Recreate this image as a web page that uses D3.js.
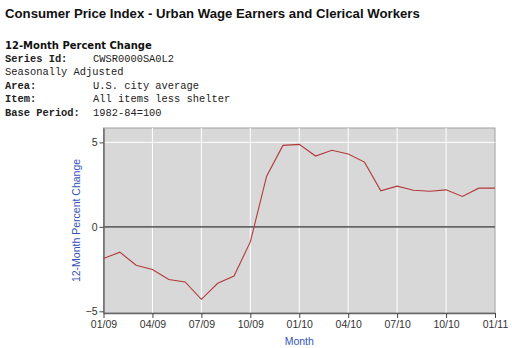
<!DOCTYPE html>
<html>
<head>
<meta charset="utf-8">
<script src="https://cdn.jsdelivr.net/npm/d3@7"></script>
<style>
  body { margin: 0; background: #fff; }
  svg { display: block; }
</style>
</head>
<body>
<svg id="chart"></svg>
<script>
// CPI-W all items less shelter, 12-month percent change

var months = ["01/09","02/09","03/09","04/09","05/09","06/09","07/09","08/09","09/09",
  "10/09","11/09","12/09","01/10","02/10","03/10","04/10","05/10","06/10","07/10",
  "08/10","09/10","10/10","11/10","12/10","01/11"];
var pctChange = [-1.88, -1.50, -2.27, -2.53, -3.12, -3.26, -4.29, -3.34, -2.91,
  -0.89, 3.00, 4.82, 4.88, 4.19, 4.53, 4.31, 3.83, 2.13, 2.41,
  2.17, 2.11, 2.19, 1.80, 2.29, 2.29];
var xTickLabels = ["01/09","04/09","07/09","10/09","01/10","04/10","07/10","10/10","01/11"];
var yTicks = [-5, 0, 5];

var headerLines = [
  {label: "Series Id:", value: "CWSR0000SA0L2"},
  {label: "Seasonally Adjusted", value: ""},
  {label: "Area:", value: "U.S. city average"},
  {label: "Item:", value: "All items less shelter"},
  {label: "Base Period:", value: "1982-84=100"}
];

var svgWidth = 512, svgHeight = 348;
var svg = d3.select("#chart")
    .attr("width", svgWidth)
    .attr("height", svgHeight);

// header text
svg.append("text")
    .attr("x", 5).attr("y", 18)
    .attr("font-family", "Liberation Sans, Arial, sans-serif")
    .attr("font-weight", "bold")
    .attr("font-size", 13.2)
    .attr("fill", "#111")
    .text("Consumer Price Index - Urban Wage Earners and Clerical Workers");

svg.append("text")
    .attr("x", 5).attr("y", 49)
    .attr("font-family", "DejaVu Sans, Verdana, sans-serif")
    .attr("font-weight", "bold")
    .attr("font-size", 10)
    .attr("fill", "#111")
    .text("12-Month Percent Change");

var hdr = svg.append("g")
    .attr("font-family", "Liberation Mono, Courier New, monospace")
    .attr("font-size", 10.4)
    .attr("fill", "#222");

headerLines.forEach(function(d, i) {
    var ty = 62 + i * 13.4;
    var bold = d.value !== "";
    hdr.append("text")
        .attr("x", 5).attr("y", ty)
        .attr("font-weight", bold ? "bold" : "normal")
        .text(d.label);
    if (d.value) {
        hdr.append("text")
            .attr("x", 93).attr("y", ty)
            .text(d.value);
    }
});

// plot area
var plotLeft = 103.5, plotRight = 495, plotTop = 128, plotBottom = 313;

var x = d3.scaleLinear()
    .domain([0, months.length - 1])
    .range([plotLeft, plotRight]);

var y = d3.scaleLinear()
    .domain([-5.1, 5.85])
    .range([plotBottom, plotTop]);

svg.append("rect")
    .attr("x", plotLeft).attr("y", plotTop)
    .attr("width", plotRight - plotLeft).attr("height", plotBottom - plotTop)
    .attr("fill", "#d8d8d8")
    .attr("stroke", "#a0a0a0")
    .attr("stroke-width", 1);

var tickIdx = xTickLabels.map(function(m) { return months.indexOf(m); });

// white grid lines
svg.append("g").selectAll("line")
    .data(tickIdx.slice(1, -1))
    .enter().append("line")
    .attr("x1", function(d) { return x(d); })
    .attr("x2", function(d) { return x(d); })
    .attr("y1", plotTop).attr("y2", plotBottom)
    .attr("stroke", "#fff")
    .attr("stroke-width", 1);

svg.append("g").selectAll("line")
    .data([5])
    .enter().append("line")
    .attr("x1", plotLeft).attr("x2", plotRight)
    .attr("y1", function(d) { return y(d); })
    .attr("y2", function(d) { return y(d); })
    .attr("stroke", "#fff")
    .attr("stroke-width", 1);

// zero line
svg.append("line")
    .attr("x1", plotLeft).attr("x2", plotRight)
    .attr("y1", y(0)).attr("y2", y(0))
    .attr("stroke", "#666")
    .attr("stroke-width", 1.6);

// axes
var xAxis = d3.axisBottom(x)
    .tickValues(tickIdx)
    .tickFormat(function(d) { return months[d]; })
    .tickSizeInner(5)
    .tickSizeOuter(0)
    .tickPadding(3);

var yAxis = d3.axisLeft(y)
    .tickValues(yTicks)
    .tickSizeInner(4)
    .tickSizeOuter(0)
    .tickPadding(2);

var gx = svg.append("g")
    .attr("transform", "translate(0," + plotBottom + ")")
    .call(xAxis);
var gy = svg.append("g")
    .attr("transform", "translate(" + plotLeft + ",0)")
    .call(yAxis);

[gx, gy].forEach(function(g) {
    g.selectAll("path.domain").attr("stroke", "#666").attr("stroke-width", 1.4);
    g.selectAll(".tick line").attr("stroke", "#444");
    g.selectAll(".tick text")
        .attr("font-family", "Liberation Sans, Arial, sans-serif")
        .attr("font-size", 10.5)
        .attr("fill", "#333");
});

// series line
var line = d3.line()
    .x(function(d, i) { return x(i); })
    .y(function(d) { return y(d); });

svg.append("path")
    .datum(pctChange)
    .attr("d", line)
    .attr("fill", "none")
    .attr("stroke", "#b23a3a")
    .attr("stroke-width", 1.1);

// axis titles
svg.append("text")
    .attr("x", (plotLeft + plotRight) / 2).attr("y", 345)
    .attr("text-anchor", "middle")
    .attr("font-family", "Liberation Sans, Arial, sans-serif")
    .attr("font-size", 10.5)
    .attr("fill", "#3355bb")
    .text("Month");

svg.append("text")
    .attr("transform", "translate(80," + ((plotTop + plotBottom) / 2) + ") rotate(-90)")
    .attr("text-anchor", "middle")
    .attr("font-family", "Liberation Sans, Arial, sans-serif")
    .attr("font-size", 10.5)
    .attr("fill", "#3355bb")
    .text("12-Month Percent Change");
</script>
</body>
</html>
